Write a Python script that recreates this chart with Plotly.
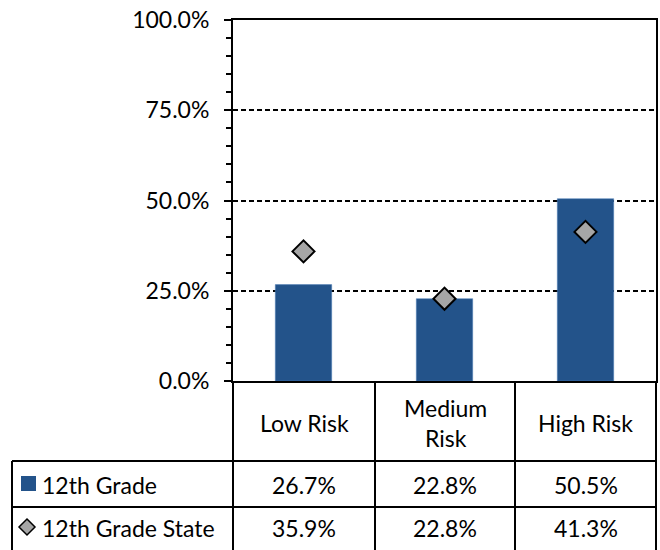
import plotly.graph_objects as go

# ---------------------------------------
# data
# ---------------------------------------

categories = ["Low Risk", "Medium Risk", "High Risk"]
header_labels = ["Low Risk", "Medium<br>Risk", "High Risk"]
grade12 = [0.267, 0.228, 0.505]
grade12_state = [0.359, 0.228, 0.413]
series_names = ["12th Grade", "12th Grade State"]

BAR_COLOR = "#23538A"
DIAMOND_COLOR = "#A6A6A6"
FONT = "Lato, 'Open Sans', sans-serif"
FS = 23

# page is 660 x 550 (body margin removed in the html)
W, H = 660, 550

# plot area in page pixels
L, R, T, B = 233, 656, 20, 381


def px_x(x):
    return (x - L) / (R - L)


def px_y(y):
    return (B - y) / (B - T)


fig = go.Figure()

fig.add_trace(
    go.Bar(
        x=categories,
        y=grade12,
        name=series_names[0],
        width=0.4,
        marker=dict(color=BAR_COLOR, line=dict(color="#4F7FB8", width=0.5)),
    )
)

fig.add_trace(
    go.Scatter(
        x=categories,
        y=grade12_state,
        name=series_names[1],
        mode="markers",
        marker=dict(
            symbol="diamond",
            size=17,
            color=DIAMOND_COLOR,
            line=dict(color="black", width=2),
        ),
    )
)

# ---------------------------------------
# data table below the plot
# ---------------------------------------

shapes = []
line = dict(color="black", width=2)

col_edges = [L, 375, 515, R]
for x in col_edges:
    shapes.append(dict(type="line", xref="paper", yref="paper",
                       x0=px_x(x), x1=px_x(x), y0=px_y(B), y1=px_y(H + 2), line=line))

shapes.append(dict(type="line", xref="paper", yref="paper",
                   x0=px_x(12), x1=px_x(12), y0=px_y(461), y1=px_y(H + 2), line=line))

for y in [461, 507]:
    shapes.append(dict(type="line", xref="paper", yref="paper",
                       x0=px_x(12), x1=px_x(R), y0=px_y(y), y1=px_y(y), line=line))

# legend keys
shapes.append(dict(type="rect", xref="paper", yref="paper",
                   x0=px_x(21), x1=px_x(36), y0=px_y(476), y1=px_y(491),
                   fillcolor=BAR_COLOR, line=dict(width=0)))

cx, cy, d = 27, 527, 8
path = "M {} {} L {} {} L {} {} L {} {} Z".format(
    px_x(cx), px_y(cy - d), px_x(cx + d), px_y(cy),
    px_x(cx), px_y(cy + d), px_x(cx - d), px_y(cy))
shapes.append(dict(type="path", xref="paper", yref="paper", path=path,
                   fillcolor=DIAMOND_COLOR, line=dict(color="black", width=1.5)))

annotations = []
text_font = dict(family=FONT, size=FS, color="black")

col_centers = [(col_edges[i] + col_edges[i + 1]) / 2 for i in range(3)]

for xc, label in zip(col_centers, header_labels):
    annotations.append(dict(xref="paper", yref="paper", x=px_x(xc), y=px_y(423),
                            text=label, showarrow=False, font=text_font,
                            xanchor="center", yanchor="middle"))

rows = [(grade12, 485), (grade12_state, 528)]
for name, (values, yc) in zip(series_names, rows):
    annotations.append(dict(xref="paper", yref="paper", x=px_x(40), y=px_y(yc),
                            text=name, showarrow=False, font=text_font,
                            xanchor="left", yanchor="middle"))
    for xc, v in zip(col_centers, values):
        annotations.append(dict(xref="paper", yref="paper", x=px_x(xc), y=px_y(yc),
                                text=f"{v:.1%}", showarrow=False, font=text_font,
                                xanchor="center", yanchor="middle"))

fig.update_layout(
    width=W,
    height=H,
    margin=dict(l=L, r=W - R, t=T, b=H - B, pad=0, autoexpand=False),
    paper_bgcolor="white",
    plot_bgcolor="white",
    showlegend=False,
    bargap=0.6,
    font=dict(family=FONT, size=FS, color="black"),
    shapes=shapes,
    annotations=annotations,
    xaxis=dict(
        range=[-0.5, 2.5],
        showticklabels=False,
        showgrid=False,
        showline=True,
        linecolor="black",
        linewidth=2,
        mirror=True,
        ticks="",
        automargin=False,
    ),
    yaxis=dict(
        range=[0, 1],
        dtick=0.25,
        tickformat=".1%",
        showline=True,
        linecolor="black",
        linewidth=2,
        mirror=True,
        ticks="outside",
        ticklen=7,
        tickwidth=2,
        tickcolor="black",
        ticklabelstandoff=10,
        ticklabeloverflow="allow",
        automargin=False,
        showgrid=True,
        gridcolor="black",
        gridwidth=1.5,
        griddash="5px,3px",
        zeroline=False,
        minor=dict(dtick=0.05, ticks="outside", ticklen=5, tickwidth=2,
                   tickcolor="black", showgrid=False),
    ),
)

fig.write_html(
    "out.html",
    config={"displayModeBar": False},
    post_script="document.body.style.margin='0';document.body.style.overflow='hidden';",
)
